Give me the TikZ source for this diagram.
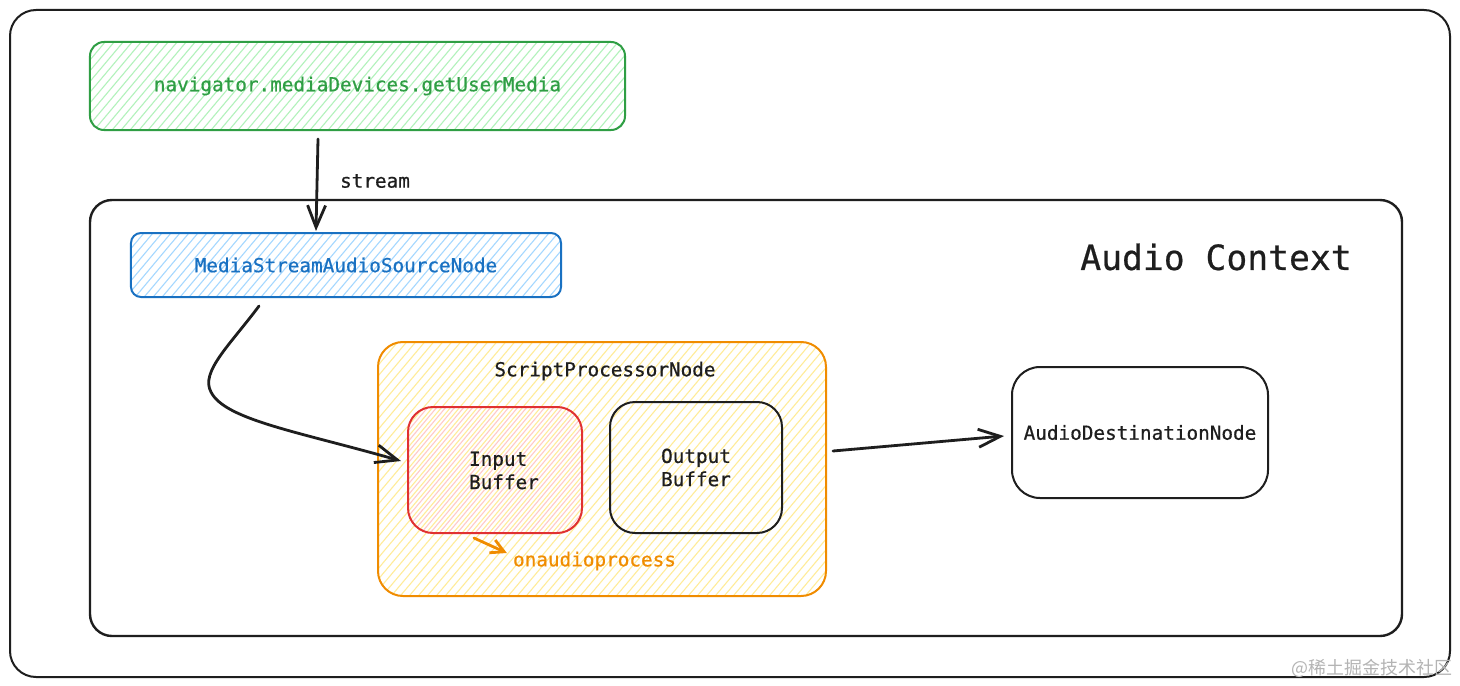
\documentclass[tikz,border=0pt]{standalone}
\usepackage{fontspec}
\newfontfamily\monotext{DejaVu Sans Mono}[FakeBold=0.6]
\newfontfamily\cjkfont{Noto Sans CJK SC}
\usetikzlibrary{arrows.meta,calc}
\definecolor{gstroke}{HTML}{2F9E44}
\definecolor{ghatch}{HTML}{B2F2BB}
\definecolor{bstroke}{HTML}{1971C2}
\definecolor{bhatch}{HTML}{A5D8FF}
\definecolor{ostroke}{HTML}{F08C00}
\definecolor{ohatch}{HTML}{FFEC99}
\definecolor{rstroke}{HTML}{E03131}
\definecolor{rhatch}{HTML}{FFC9C9}
\definecolor{ink}{HTML}{1E1E1E}
\definecolor{wmark}{HTML}{B4B4B4}
\begin{document}
\begin{tikzpicture}[x=1bp,y=-1bp,
  box/.style={draw, rounded corners=#1, line width=2bp, inner sep=0pt},
  box/.default=14bp,
  hatch/.style={path picture={
    \foreach \k in {-45,...,70}
      \draw[#1, line width=1.1bp] ($(path picture bounding box.south west)+(\k*9bp,-5bp)$) -- ++(300bp,357bp);
  }},
  txt/.style={inner sep=0pt, font=\monotext\fontsize{19.4}{23.3}\selectfont, text=ink},
  conn/.style={draw=ink, line width=2.8bp, line cap=round, -{Straight Barb[length=22bp,width=18bp]}},
]
\useasboundingbox (0,0) rectangle (1460,686);
\fill[white] (0,0) rectangle (1460,686);
% outer frame
\draw[ink, line width=2bp, rounded corners=26bp] (10,10) rectangle (1450,677);
% audio context
\node[box=22bp, draw=ink, line width=2.4bp, minimum width=1312bp, minimum height=436bp] (ctx) at (746,418) {};
\node[inner sep=0pt, font=\monotext\fontsize{34.8}{40}\selectfont, text=ink] (ctxlabel) at (1216,257) {Audio Context};
% green box
\node[box=14bp, draw=gstroke, hatch=ghatch, minimum width=535bp, minimum height=88bp, txt, text=gstroke] (green) at (357.5,86) {navigator.mediaDevices.getUserMedia};
% blue box
\node[box=10bp, draw=bstroke, hatch=bhatch, minimum width=430bp, minimum height=64bp, txt, text=bstroke] (blue) at (346,265) {MediaStreamAudioSourceNode};
% script processor
\node[box=25bp, draw=ostroke, hatch=ohatch, minimum width=448bp, minimum height=254bp] (spn) at (602,469) {};
\node[txt] (spnlabel) at (605,371) {ScriptProcessorNode};
% input buffer
\node[box=25bp, draw=rstroke, hatch=rhatch, minimum width=174bp, minimum height=126bp] (inbuf) at (495,470) {};
\node[txt, align=left] (inbuftxt) at (504,470.5) {Input\\Buffer};
% output buffer
\node[box=25bp, draw=ink, minimum width=172bp, minimum height=131bp, txt, align=left] (outbuf) at (696,467.5) {Output\\Buffer};
% onaudioprocess
\node[txt, text=ostroke] (onap) at (594.5,561) {onaudioprocess};
% destination
\node[box=28bp, draw=ink, minimum width=256bp, minimum height=131bp, txt] (dest) at (1140,432.5) {AudioDestinationNode};
% stream label
\node[txt] (streamlabel) at (375,181) {stream};
% connectors
\draw[conn] ([xshift=-39.5bp,yshift=-8bp]green.south) -- ([xshift=-30bp,yshift=1bp]blue.north);
\draw[conn] ([xshift=-87bp,yshift=-8bp]blue.south) .. controls (230,345) and (200,372) .. (211,392) .. controls (225,420) and (300,432) .. ([xshift=-6bp,yshift=9bp]inbuf.west);
\draw[conn] ([xshift=6bp,yshift=18bp]spn.east) -- ([xshift=-7bp,yshift=-3.5bp]dest.west);
\draw[draw=ostroke, line width=2.8bp, line cap=round, -{Straight Barb[length=13bp,width=14bp]}] ([xshift=-21bp,yshift=-4bp]inbuf.south) -- ([xshift=-6bp,yshift=8bp]onap.west);
% watermark
\node[inner sep=0pt, font=\cjkfont\fontsize{18}{20}\selectfont, text=wmark] (wm) at (1372,668) {@稀土掘金技术社区};
\end{tikzpicture}
\end{document}
